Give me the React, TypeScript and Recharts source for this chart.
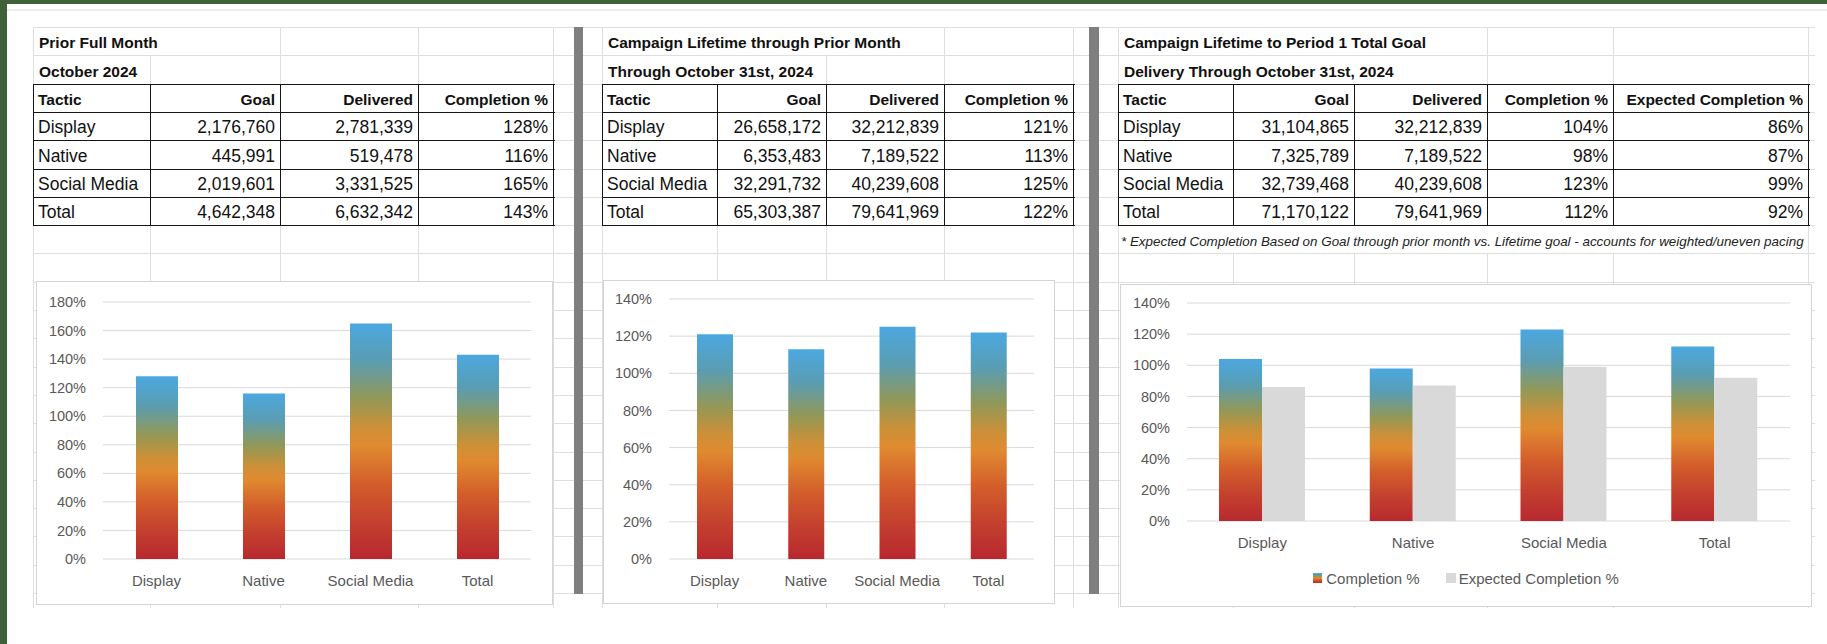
import React from 'react';
import { BarChart, Bar, XAxis, YAxis, CartesianGrid, Legend } from 'recharts';

// values
const tactics = ['Display', 'Native', 'Social Media', 'Total'];

const monthGoal = [2176760, 445991, 2019601, 4642348];
const monthDelivered = [2781339, 519478, 3331525, 6632342];
const monthCompletion = [128, 116, 165, 143];

const lifeGoal = [26658172, 6353483, 32291732, 65303387];
const lifeDelivered = [32212839, 7189522, 40239608, 79641969];
const lifeCompletion = [121, 113, 125, 122];

const periodGoal = [31104865, 7325789, 32739468, 71170122];
const periodDelivered = [32212839, 7189522, 40239608, 79641969];
const periodCompletion = [104, 98, 123, 112];
const periodExpected = [86, 87, 99, 92];

const ticks180 = [0, 20, 40, 60, 80, 100, 120, 140, 160, 180];
const ticks140 = [0, 20, 40, 60, 80, 100, 120, 140];

const FONT = '"Liberation Sans", Arial, sans-serif';
const GREEN = '#3E6139';
const GRID = '#DEDEDE';
const AXIS_TEXT = '#595959';

const ROW_H = 28.3;
const GRID_TOP = 27;
const GRID_BOTTOM = 608;
const ROW_COUNT = 20;

const GRAD: [string, string][] = [
  ['0%', '#4BA8E0'],
  ['16%', '#5A9DB2'],
  ['32%', '#939856'],
  ['44%', '#CC9038'],
  ['52%', '#E08A30'],
  ['68%', '#D35E2B'],
  ['84%', '#C4402E'],
  ['100%', '#B8282F'],
];

const sections = [
  { from: 33, to: 574, cols: [33, 150, 280, 418, 553] },
  { from: 583, to: 1089, cols: [602, 717, 826, 944, 1073] },
  { from: 1099, to: 1815, cols: [1118, 1233, 1354, 1487, 1613, 1808] },
];

const rowTop = (r: number) => Math.round(GRID_TOP + r * ROW_H);
const fmt = (n: number) => n.toLocaleString('en-US');
const pct = (n: number) => `${n}%`;

function SheetGrid() {
  const lines: React.ReactNode[] = [];
  sections.forEach((s, si) => {
    for (let r = 0; r <= ROW_COUNT; r++) {
      lines.push(
        <div key={`h${si}-${r}`} style={{ position: 'absolute', left: s.from, top: rowTop(r), width: s.to - s.from, height: 1, background: GRID }} />
      );
    }
    s.cols.forEach((c, ci) =>
      lines.push(
        <div key={`v${si}-${ci}`} style={{ position: 'absolute', left: c, top: GRID_TOP, width: 1, height: GRID_BOTTOM - GRID_TOP, background: GRID }} />
      )
    );
  });
  return <>{lines}</>;
}

function SheetTable({ cols, title, subtitle, headers, rows, note }: {
  cols: number[]; title: string; subtitle: string; headers: string[]; rows: string[][]; note?: string;
}) {
  const left = cols[0];
  const right = cols[cols.length - 1];
  const out: React.ReactNode[] = [];
  const label = (text: string, r: number, key: string, extra: React.CSSProperties = {}) => (
    <div key={key} style={{
      position: 'absolute', left: left + 1, top: rowTop(r) + 1, height: rowTop(r + 1) - rowTop(r) - 1,
      paddingLeft: 5, paddingRight: 3, paddingTop: 3, boxSizing: 'border-box', background: '#fff',
      whiteSpace: 'nowrap', display: 'flex', alignItems: 'center', ...extra,
    }}>{text}</div>
  );
  out.push(label(title, 0, 't', { fontWeight: 700, fontSize: 15.5 }));
  out.push(label(subtitle, 1, 's', { fontWeight: 700, fontSize: 15.5 }));
  if (note) out.push(label(note, 7, 'n', { fontStyle: 'italic', fontSize: 13.4, paddingLeft: 2, color: '#222' }));

  const body = [headers, ...rows];
  body.forEach((row, ri) => {
    row.forEach((cell, ci) => {
      const r = ri + 2;
      out.push(
        <div key={`c${ri}-${ci}`} style={{
          position: 'absolute', left: cols[ci], top: rowTop(r), width: cols[ci + 1] - cols[ci], height: rowTop(r + 1) - rowTop(r),
          padding: '3px 5px 0 5px', boxSizing: 'border-box', display: 'flex', alignItems: 'center',
          justifyContent: ci === 0 ? 'flex-start' : 'flex-end', whiteSpace: 'nowrap',
          fontWeight: ri === 0 ? 700 : 400, fontSize: ri === 0 ? 15.5 : 17.5,
        }}>{cell}</div>
      );
    });
  });
  for (let r = 2; r <= 7; r++) {
    out.push(<div key={`bh${r}`} style={{ position: 'absolute', left, top: rowTop(r) - 0.5, width: right - left + 1.5, height: 1.5, background: '#151515' }} />);
  }
  cols.forEach((c, ci) =>
    out.push(<div key={`bv${ci}`} style={{ position: 'absolute', left: c - 0.5, top: rowTop(2), width: 1.5, height: rowTop(7) - rowTop(2), background: '#151515' }} />)
  );
  return <>{out}</>;
}

type Geo = { x: number; y: number; w: number; h: number; pl: number; pr: number; pt: number; pb: number };

function boxStyle(g: Geo): React.CSSProperties {
  return { position: 'absolute', left: g.x, top: g.y, width: g.w, height: g.h, boxSizing: 'border-box', border: '1px solid #D4D4D4', background: '#fff' };
}

const yTick = { fill: AXIS_TEXT, fontSize: 14.5, fontFamily: FONT };
const xTick = { fill: AXIS_TEXT, fontSize: 15, fontFamily: FONT };

function CompletionChart({ g, id, data, ticks, barSize }: { g: Geo; id: string; data: any[]; ticks: number[]; barSize: number }) {
  const iw = g.w - 2;
  const ih = g.h - 2;
  const ox = g.x + 1;
  const oy = g.y + 1;
  const bottom = oy + ih - g.pb;
  return (
    <div style={boxStyle(g)}>
      <BarChart width={iw} height={ih} data={data}
        margin={{ top: g.pt - oy, right: ox + iw - g.pr, left: 0, bottom: bottom - 30 }}>
        <defs>
          <linearGradient id={id} x1="0" y1="0" x2="0" y2="1">
            {GRAD.map(([o, c]) => <stop key={o} offset={o} stopColor={c} />)}
          </linearGradient>
        </defs>
        <CartesianGrid vertical={false} stroke="#D9D9D9" />
        <XAxis dataKey="name" axisLine={false} tickLine={false} tickSize={0} tickMargin={16} height={30} interval={0} tick={xTick} />
        <YAxis width={g.pl - ox} domain={[0, ticks[ticks.length - 1]]} ticks={ticks} interval={0}
          axisLine={false} tickLine={false} tickSize={0} tickMargin={17} tickFormatter={pct} tick={yTick} />
        <Bar dataKey="completion" fill={`url(#${id})`} barSize={barSize} isAnimationActive={false} />
      </BarChart>
    </div>
  );
}

function PeriodLegend() {
  return (
    <div style={{ display: 'flex', justifyContent: 'center', alignItems: 'center', height: 20, fontSize: 15, color: AXIS_TEXT, fontFamily: FONT }}>
      <svg width={9} height={10} style={{ marginRight: 4 }}>
        <defs>
          <linearGradient id="legendGrad" x1="0" y1="0" x2="0" y2="1">
            {GRAD.map(([o, c]) => <stop key={o} offset={o} stopColor={c} />)}
          </linearGradient>
        </defs>
        <rect width={9} height={10} fill="url(#legendGrad)" />
      </svg>
      <span>Completion %</span>
      <svg width={10} height={10} style={{ marginLeft: 26, marginRight: 3 }}>
        <rect width={10} height={10} fill="#D9D9D9" />
      </svg>
      <span>Expected Completion %</span>
    </div>
  );
}

function PeriodChart({ g, data }: { g: Geo; data: any[] }) {
  const iw = g.w - 2;
  const ih = g.h - 2;
  const ox = g.x + 1;
  const oy = g.y + 1;
  const below = oy + ih - g.pb; // space under the plot
  const legendBottom = 18;
  const legendH = 20;
  return (
    <div style={boxStyle(g)}>
      <BarChart width={iw} height={ih} data={data} barGap={0}
        margin={{ top: g.pt - oy, right: ox + iw - g.pr, left: 0, bottom: legendBottom }}>
        <defs>
          <linearGradient id="gradPeriod" x1="0" y1="0" x2="0" y2="1">
            {GRAD.map(([o, c]) => <stop key={o} offset={o} stopColor={c} />)}
          </linearGradient>
        </defs>
        <CartesianGrid vertical={false} stroke="#D9D9D9" />
        <XAxis dataKey="name" axisLine={false} tickLine={false} tickSize={0} tickMargin={16}
          height={below - legendBottom - legendH} interval={0} tick={xTick} />
        <YAxis width={g.pl - ox} domain={[0, 140]} ticks={ticks140} interval={0}
          axisLine={false} tickLine={false} tickSize={0} tickMargin={17} tickFormatter={pct} tick={yTick} />
        <Legend verticalAlign="bottom" content={() => <PeriodLegend />} wrapperStyle={{ left: 0, width: iw, height: legendH }} />
        <Bar dataKey="completion" name="Completion %" fill="url(#gradPeriod)" barSize={43} isAnimationActive={false} />
        <Bar dataKey="expected" name="Expected Completion %" fill="#D9D9D9" barSize={43} isAnimationActive={false} />
      </BarChart>
    </div>
  );
}

export default function App() {
  const monthRows = tactics.map((t, i) => [t, fmt(monthGoal[i]), fmt(monthDelivered[i]), pct(monthCompletion[i])]);
  const lifeRows = tactics.map((t, i) => [t, fmt(lifeGoal[i]), fmt(lifeDelivered[i]), pct(lifeCompletion[i])]);
  const periodRows = tactics.map((t, i) => [t, fmt(periodGoal[i]), fmt(periodDelivered[i]), pct(periodCompletion[i]), pct(periodExpected[i])]);

  const monthData = tactics.map((t, i) => ({ name: t, completion: monthCompletion[i] }));
  const lifeData = tactics.map((t, i) => ({ name: t, completion: lifeCompletion[i] }));
  const periodData = tactics.map((t, i) => ({ name: t, completion: periodCompletion[i], expected: periodExpected[i] }));

  const chart1: Geo = { x: 36, y: 281, w: 517, h: 324, pl: 103, pr: 531, pt: 302, pb: 559 };
  const chart2: Geo = { x: 603, y: 280, w: 452, h: 324, pl: 669, pr: 1034, pt: 299, pb: 559 };
  const chart3: Geo = { x: 1120, y: 284, w: 692, h: 323, pl: 1187, pr: 1790, pt: 303, pb: 521 };

  return (
    <div style={{ position: 'relative', width: 1827, height: 644, background: '#fff', overflow: 'hidden', fontFamily: FONT, color: '#111' }}>
      <style>{'body{margin:0;background:#fff}'}</style>
      <div style={{ position: 'absolute', left: 0, top: 0, width: 1827, height: 4, background: GREEN }} />
      <div style={{ position: 'absolute', left: 0, top: 0, width: 7, height: 644, background: GREEN }} />
      <div style={{ position: 'absolute', left: 7, top: 9, width: 1820, height: 2, background: '#ECECEC' }} />

      <SheetGrid />

      <SheetTable cols={sections[0].cols} title="Prior Full Month" subtitle="October 2024"
        headers={['Tactic', 'Goal', 'Delivered', 'Completion %']} rows={monthRows} />
      <SheetTable cols={sections[1].cols} title="Campaign Lifetime through Prior Month" subtitle="Through October 31st, 2024"
        headers={['Tactic', 'Goal', 'Delivered', 'Completion %']} rows={lifeRows} />
      <SheetTable cols={sections[2].cols} title="Campaign Lifetime to Period 1 Total Goal" subtitle="Delivery Through October 31st, 2024"
        headers={['Tactic', 'Goal', 'Delivered', 'Completion %', 'Expected Completion %']} rows={periodRows}
        note="* Expected Completion Based on Goal through prior month vs. Lifetime goal - accounts for weighted/uneven pacing" />

      <div style={{ position: 'absolute', left: 574, top: GRID_TOP, width: 9, height: 567, background: '#7F7F7F' }} />
      <div style={{ position: 'absolute', left: 1089, top: GRID_TOP, width: 10, height: 567, background: '#7F7F7F' }} />

      <CompletionChart g={chart1} id="gradMonth" data={monthData} ticks={ticks180} barSize={42} />
      <CompletionChart g={chart2} id="gradLife" data={lifeData} ticks={ticks140} barSize={36} />
      <PeriodChart g={chart3} data={periodData} />
    </div>
  );
}
